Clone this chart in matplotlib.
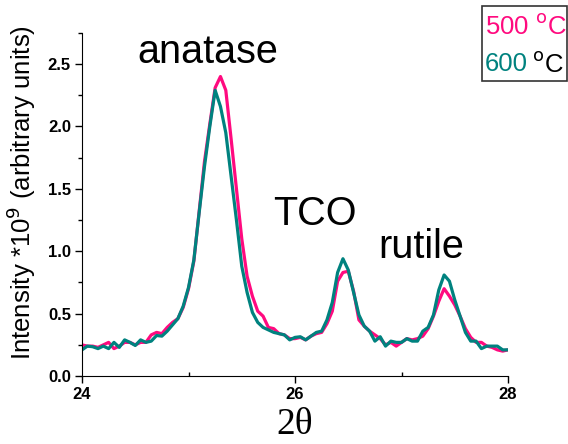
import numpy as np
import matplotlib.pyplot as plt
from matplotlib.patches import Rectangle
from matplotlib.ticker import MultipleLocator

plt.rcParams['font.family'] = ['Liberation Sans', 'DejaVu Sans']

two_theta = np.round(np.arange(24.0, 28.001, 0.05), 2)

int_500 = [0.25, 0.24, 0.24, 0.23, 0.25, 0.27, 0.22, 0.24, 0.27, 0.27,
           0.25, 0.27, 0.27, 0.33, 0.35, 0.34, 0.39, 0.43, 0.46, 0.55,
           0.70, 0.92, 1.32, 1.72, 2.02, 2.31, 2.40, 2.29, 1.90, 1.50,
           1.10, 0.80, 0.64, 0.52, 0.48, 0.39, 0.38, 0.34, 0.33, 0.30,
           0.30, 0.31, 0.29, 0.32, 0.34, 0.35, 0.42, 0.52, 0.76, 0.83,
           0.84, 0.68, 0.45, 0.40, 0.36, 0.33, 0.30, 0.25, 0.27, 0.24,
           0.27, 0.30, 0.29, 0.30, 0.32, 0.38, 0.48, 0.60, 0.70, 0.64,
           0.57, 0.48, 0.38, 0.31, 0.27, 0.27, 0.24, 0.23, 0.21, 0.20,
           0.21]

int_600 = [0.21, 0.24, 0.235, 0.22, 0.24, 0.22, 0.27, 0.23, 0.29, 0.27,
           0.245, 0.29, 0.27, 0.28, 0.325, 0.32, 0.36, 0.41, 0.46, 0.56,
           0.71, 0.93, 1.31, 1.68, 2.00, 2.29, 2.16, 1.95, 1.60, 1.25,
           0.88, 0.67, 0.51, 0.43, 0.39, 0.37, 0.35, 0.34, 0.33, 0.29,
           0.31, 0.315, 0.29, 0.32, 0.35, 0.36, 0.45, 0.59, 0.83, 0.94,
           0.85, 0.67, 0.49, 0.40, 0.36, 0.28, 0.315, 0.24, 0.28, 0.27,
           0.27, 0.30, 0.28, 0.28, 0.36, 0.39, 0.49, 0.69, 0.81, 0.76,
           0.61, 0.48, 0.35, 0.28, 0.28, 0.22, 0.24, 0.24, 0.24, 0.21,
           0.21]

peaks = ['anatase', 'TCO', 'rutile']
peak_x = [25.18, 26.19, 27.18]
peak_y = [2.51, 1.21, 0.945]

pink = '#ff0a7f'
teal = '#00827f'

fig = plt.figure(figsize=(5.68, 4.44), dpi=100)
ax = fig.add_axes([0.1444, 0.153, 0.75, 0.773])

ax.plot(two_theta, int_500, color=pink, lw=2.3)
ax.plot(two_theta, int_600, color=teal, lw=2.3)

for name, px, py in zip(peaks, peak_x, peak_y):
    ax.text(px, py, name, fontsize=28.5, ha='center', va='baseline')

ax.set_xlim(24, 28)
ax.set_ylim(0, 2.75)
ax.xaxis.set_major_locator(MultipleLocator(2))
ax.xaxis.set_minor_locator(MultipleLocator(1))
ax.yaxis.set_major_locator(MultipleLocator(0.5))
ax.yaxis.set_minor_locator(MultipleLocator(0.25))
ax.yaxis.set_major_formatter(plt.FormatStrFormatter('%.1f'))
ax.tick_params(which='major', direction='out', length=5, width=1,
               labelsize=12, pad=3)
ax.tick_params(which='minor', direction='out', length=3, width=1)
ax.tick_params(axis='x', which='minor', direction='in', length=3)
for lab in ax.get_xticklabels() + ax.get_yticklabels():
    lab.set_fontweight('bold')
ax.spines['top'].set_visible(False)
ax.spines['right'].set_visible(False)

ax.set_ylabel('Intensity *10$^{9}$ (arbitrary units)', fontsize=18.5)
ax.yaxis.set_label_coords(-0.103, 0.535)
ax.set_xlabel('2θ', fontsize=27, family='Liberation Serif', labelpad=4)

# legend box drawn by hand (mixed colours)
fig.patches.append(Rectangle((482 / 568, 1 - 81 / 444), 85 / 568, 75 / 444,
                             transform=fig.transFigure, fill=False,
                             ec='#333333', lw=1.2))
fig.text(485 / 568, 1 - 27 / 444, '500 $^{\\mathrm{o}}$C', color=pink,
         fontsize=18.5, va='center', ha='left')
fig.text(485 / 568, 1 - 64 / 444, '600', color=teal,
         fontsize=18.5, va='center', ha='left')
fig.text(532 / 568, 1 - 64 / 444, '$^{\\mathrm{o}}$C', color='black',
         fontsize=18.5, va='center', ha='left')

fig.savefig('out.png', dpi=100)
